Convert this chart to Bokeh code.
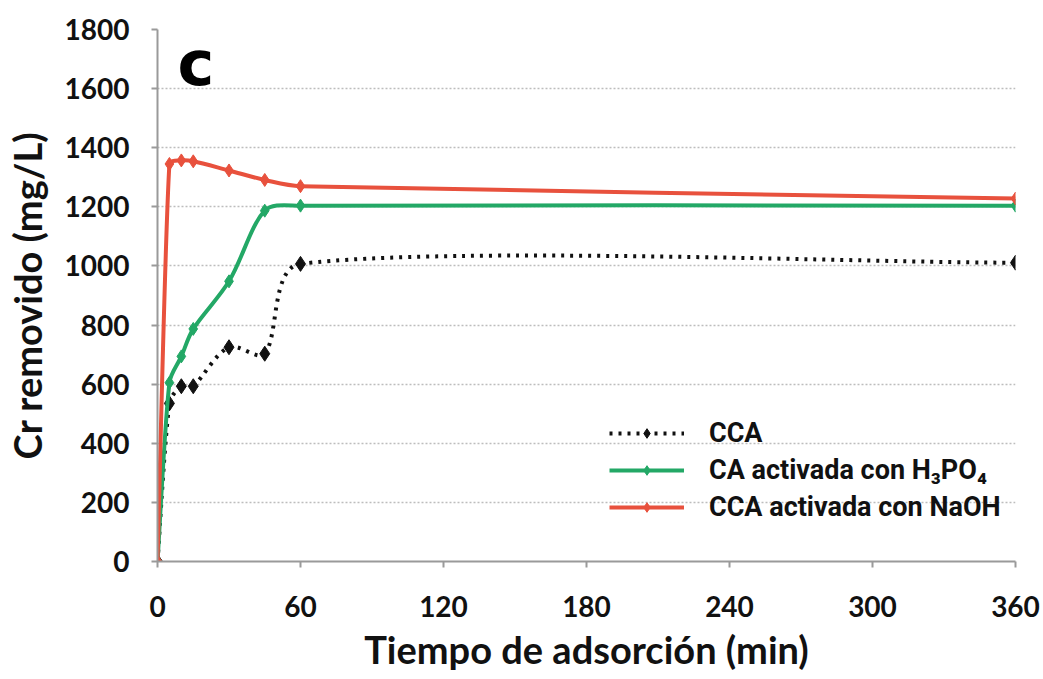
import math
from bokeh.plotting import figure
from bokeh.models import Range1d, FixedTicker, Legend, LegendItem, Label, ColumnDataSource
from bokeh.embed import file_html
from bokeh.resources import INLINE

# ---- data ----
tiempo = [0, 5, 10, 15, 30, 45, 60, 360]
cca = [0, 535, 593, 593, 725, 703, 1007, 1011]
ca_h3po4 = [0, 605, 694, 787, 948, 1187, 1204, 1204]
cca_naoh = [0, 1345, 1357, 1354, 1323, 1291, 1270, 1228]

x_ticks = [0, 60, 120, 180, 240, 300, 360]
y_ticks = [0, 200, 400, 600, 800, 1000, 1200, 1400, 1600, 1800]

labels = ["CCA", "CA activada con H\u2083PO\u2084", "CCA activada con NaOH"]
colors = ["#111111", "#23a866", "#e8513d"]

W, H = 1043, 679
ML, MR, MT, MB = 155, 28, 29, 118
FW, FH = W - ML - MR, H - MT - MB
XMAX, YMAX = 360, 1800


def smooth_segments(xs, ys, cap=0.2):
    """Cubic Bezier control points for a smoothed line through the data points
    (tangents weighted by neighbouring segment lengths, in screen proportions)."""
    sx, sy = FW / XMAX, FH / YMAX
    pts = [(x * sx, y * sy) for x, y in zip(xs, ys)]
    n = len(pts)
    out = {k: [] for k in ("x0", "y0", "x1", "y1", "cx0", "cy0", "cx1", "cy1")}

    def d(a, b):
        return math.hypot(a[0] - b[0], a[1] - b[1])

    for i in range(n - 1):
        p0 = pts[i - 1] if i > 0 else pts[i]
        p1, p2 = pts[i], pts[i + 1]
        p3 = pts[i + 2] if i + 2 < n else pts[i + 1]
        d01, d12, d23 = d(p0, p1), d(p1, p2), d(p2, p3)
        w1 = min(d12 / (d01 + d12) / 3, cap) if d01 + d12 > 0 else 0
        w2 = min(d12 / (d12 + d23) / 3, cap) if d12 + d23 > 0 else 0
        c1 = (p1[0] + (p2[0] - p0[0]) * w1, p1[1] + (p2[1] - p0[1]) * w1)
        c2 = (p2[0] - (p3[0] - p1[0]) * w2, p2[1] - (p3[1] - p1[1]) * w2)
        out["x0"].append(xs[i]); out["y0"].append(ys[i])
        out["x1"].append(xs[i + 1]); out["y1"].append(ys[i + 1])
        out["cx0"].append(c1[0] / sx); out["cy0"].append(c1[1] / sy)
        out["cx1"].append(c2[0] / sx); out["cy1"].append(c2[1] / sy)
    return out


p = figure(width=W, height=H, x_range=Range1d(0, XMAX), y_range=Range1d(0, YMAX),
           output_backend="svg", toolbar_location=None,
           min_border_left=ML, min_border_right=MR, min_border_top=MT, min_border_bottom=MB)
p.outline_line_color = None
p.background_fill_color = "white"
p.border_fill_color = "white"

p.xgrid.visible = False
p.ygrid.grid_line_color = "#bdbdbd"
p.ygrid.grid_line_dash = "2 2"
p.ygrid.grid_line_width = 1.5

p.xaxis.ticker = FixedTicker(ticks=x_ticks)
p.yaxis.ticker = FixedTicker(ticks=y_ticks)
for ax in (p.xaxis[0], p.yaxis[0]):
    ax.axis_line_color = "#9a9a9a"
    ax.axis_line_width = 2
    ax.major_tick_line_color = "#9a9a9a"
    ax.major_tick_line_width = 2
    ax.major_tick_in = 0
    ax.major_tick_out = 6
    ax.minor_tick_line_color = None
    ax.major_label_text_font = "Lato"
    ax.major_label_text_font_style = "bold"
    ax.major_label_text_font_size = "28px"
    ax.major_label_text_color = "#111111"
    ax.axis_label_text_font = "Lato"
    ax.axis_label_text_font_style = "bold"
    ax.axis_label_text_font_size = "38px"
    ax.axis_label_text_color = "#111111"

p.xaxis.axis_label = "Tiempo de adsorción (min)"
p.yaxis.axis_label = "Cr removido (mg/L)"
p.xaxis.major_label_standoff = 28
p.xaxis.axis_label_standoff = 6
p.yaxis.major_label_standoff = 22
p.yaxis.axis_label_standoff = 12

series = [cca, ca_h3po4, cca_naoh]
items = []
for i, ys in enumerate(series):
    col = colors[i]
    seg = ColumnDataSource(smooth_segments(tiempo, ys))
    if i == 0:
        style = dict(line_color=col, line_width=4, line_dash="3 6")
        msize = 15
    else:
        style = dict(line_color=col, line_width=4)
        msize = 13
    p.bezier(x0="x0", y0="y0", x1="x1", y1="y1", cx0="cx0", cy0="cy0", cx1="cx1", cy1="cy1",
             source=seg, **style)
    leg_line = p.line(tiempo, ys, visible=False, **style)
    sc = p.scatter(tiempo, ys, marker="diamond", size=msize, fill_color=col, line_color=col)
    items.append(LegendItem(label=labels[i], renderers=[leg_line, sc]))

legend = Legend(items=items, location=(452, 38), border_line_color=None,
                background_fill_alpha=0, label_text_font="Roboto",
                label_text_font_style="bold", label_text_font_size="27px",
                label_text_color="#111111", glyph_width=75, glyph_height=24,
                label_height=24, spacing=5, padding=10, margin=0, label_standoff=25)
p.add_layout(legend, "center")

p.add_layout(Label(x=20, y=498, x_units="screen", y_units="screen", text="c",
                   text_font="DejaVu Sans", text_font_style="bold",
                   text_font_size="62px", text_color="#000000",
                   text_baseline="alphabetic"))

open("out.html", "w").write(file_html(p, INLINE))
